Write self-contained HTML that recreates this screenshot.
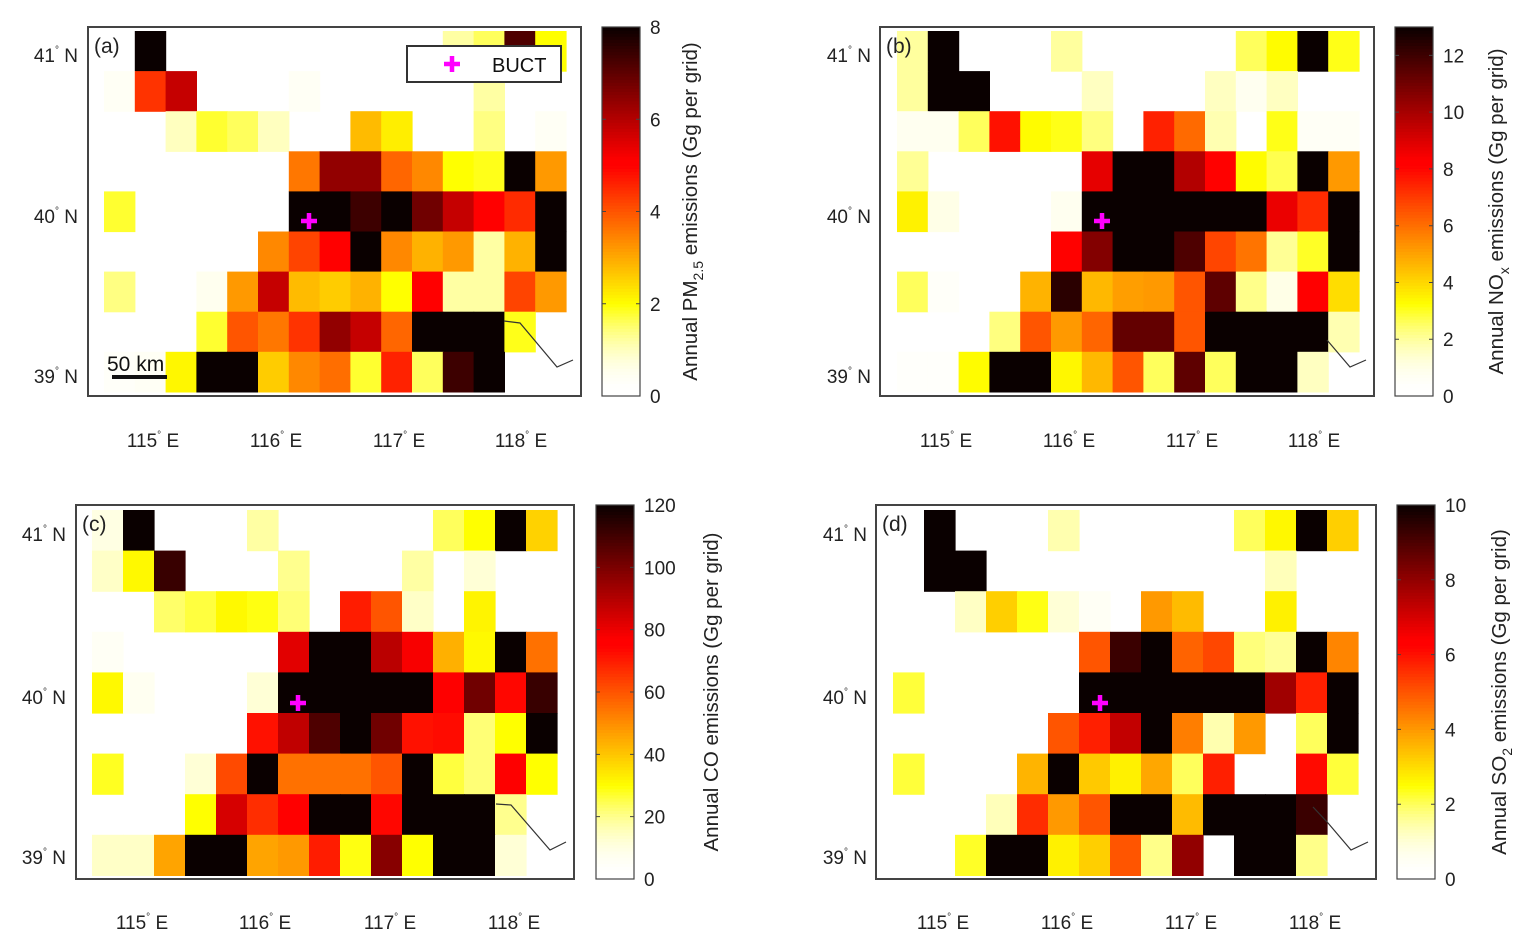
<!DOCTYPE html>
<html><head><meta charset="utf-8"><style>
html,body{margin:0;padding:0;background:#fff}
svg{display:block;font-family:"Liberation Sans",sans-serif}
</style></head><body>
<svg id="fig" width="1537" height="951" viewBox="0 0 1537 951" xmlns="http://www.w3.org/2000/svg"></svg>
<script>
// Emission grid values (rows north->south, 15 columns west->east)
const pm25 = [
[0,8,0,0,0,0,0,0,0,0,0,1.2,1.6,7.2,2],
[0.4,4.4,5.8,0,0,0,0.4,0,0,0,0,0,1.2,0,0],
[0,0,1,1.8,1.6,1,0,0,2.8,2.2,0,0,1.4,0,0.4],
[0,0,0,0,0,0,3.6,6.4,6.4,3.8,3.4,2,1.9,8,3.2],
[1.8,0,0,0,0,0,8,8,7.4,8,6.8,5.8,5,4.5,8],
[0,0,0,0,0,3.4,4.2,5,8,3.4,2.9,3.2,1.2,2.9,8],
[1.4,0,0,0.5,3.2,5.8,2.8,2.6,2.9,2,5,1.2,1.2,4.2,3.2],
[0,0,0,1.8,4,3.6,4.4,6.4,5.8,3.8,8,8,8,1.9,0],
[0.3,0.4,2.1,8,8,2.6,3.4,3.7,1.8,4.6,1.6,7.4,8,0,0]];
const nox = [
[2,13,0,0,0,2,0,0,0,0,0,2.6,3.3,13,3.1],
[2,13,13,0,0,0,1.6,0,0,0,1.6,0.8,1.6,0,0],
[0.8,0.8,2.6,7.8,3.3,3.1,2.3,0,7.5,6.1,1.8,0,3.1,0.6,0.6],
[2.1,0,0,0,0,0,8.8,13,13,9.8,8.1,3.3,2.7,13,5.2],
[3.5,1,0,0,0,0.8,13,13,13,13,13,13,8.7,7.3,13],
[0,0,0,0,0,8.1,10.7,13,13,11.7,6.8,5.9,2.1,3,13],
[2.6,0.5,0,0,4.7,12.4,4.6,5.1,5.2,6.5,11.4,2.2,1,8.2,3.9],
[0,0,0,2.3,6.5,5.2,6.2,11.3,11.3,6.5,13,13,13,13,1.8],
[0.4,0.4,3.3,13,13,3.4,4.6,6.5,2.6,11.4,2.6,13,13,1.6,0]];
const co = [
[10,120,0,0,0,18,0,0,0,0,0,24,30,120,38],
[14,31,112,0,0,0,20,0,0,0,18,0,12,0,0],
[0,0,23,26,31,29,22,0,70,60,14,0,32,0,0],
[6,0,0,0,0,0,82,120,120,89,78,44,31,120,55],
[31,7,0,0,0,12,120,120,120,120,120,77,102,74,112],
[0,0,0,0,0,72,88,108,120,102,72,73,22,30,120],
[28,0,0,12,62,120,55,55,55,60,120,26,22,77,30],
[0,0,0,30,84,67,76,120,120,74,120,120,120,20,0],
[14,14,46,120,120,46,48,70,29,98,30,120,120,12,0]];
const so2 = [
[0,10,0,0,0,1.4,0,0,0,0,0,2,2.6,10,3.2],
[0,10,10,0,0,0,0,0,0,0,0,0,1.3,0,0],
[0,0,1.2,3.2,2.4,1,0.5,0,4,3.5,0,0,2.7,0,0],
[0,0,0,0,0,0,5,9.3,10,4.8,5.2,1.8,1.6,10,4.3],
[2.2,0,0,0,0,0,10,10,10,10,10,10,7.8,5.8,10],
[0,0,0,0,0,5,5.8,7.3,10,4.4,1.4,4,0,2,10],
[2.2,0,0,0,3.6,10,3.3,2.7,3.8,2,5.8,0,0,6.1,2.2],
[0,0,0,1.3,5.6,4,5,10,10,3.5,10,10,10,9.3,0],
[0,0,2.3,10,10,2.7,3.2,5,1.7,8,0,10,10,1.7,0]];
const ticksA = [0,2,4,6,8];
const ticksB = [0,2,4,6,8,10,12];
const ticksC = [0,20,40,60,80,100,120];
const ticksD = [0,2,4,6,8,10];
const lonLabels = ["115","116","117","118"];
const latLabels = ["41","40","39"];

const NS="http://www.w3.org/2000/svg";
const svg=document.getElementById('fig');
function mk(tag,attrs,parent){const e=document.createElementNS(NS,tag);for(const k in attrs)e.setAttribute(k,attrs[k]);(parent||svg).appendChild(e);return e;}
function cmap(f){
  f=Math.max(0,Math.min(1,f));
  const v=1-f;
  const r=Math.min(1,0.04+v/0.375);
  const g=Math.max(0,Math.min(1,(v-0.375)/0.375));
  const b=f>=0.25?0:1-Math.pow(f/0.25,2);
  return `rgb(${Math.round(Math.min(1,r)*255)},${Math.round(g*255)},${Math.round(b*255)})`;
}
const panels=[
 {id:'a',data:pm25,max:8,ticks:ticksA,box:[88,27,493,369],x0:104,cw:30.8,y0:31,ch:40.1,cb:[602,27,38,369],
  title:['Annual PM','2.5',' emissions (Gg per grid)'],tx:697,
  ylx:78,yly:[55,216,376],xly:440,xlx:[153,276,399,521],buct:[309,221],
  coast:[[504,321],[520,323],[557,367],[573,360]]},
 {id:'b',data:nox,max:13,ticks:ticksB,box:[880,27,494,369],x0:897,cw:30.8,y0:31,ch:40.1,cb:[1395,27,38,369],
  title:['Annual NO','x',' emissions (Gg per grid)'],tx:1503,
  ylx:871,yly:[55,216,376],xly:440,xlx:[946,1069,1192,1314],buct:[1102,221],
  coast:[[1327,340],[1350,367],[1366,360]]},
 {id:'c',data:co,max:120,ticks:ticksC,box:[76,505,498,374],x0:92,cw:31,y0:510,ch:40.6,cb:[596,505,38,374],
  title:['Annual CO emissions (Gg per grid)'],tx:718,
  ylx:66,yly:[534,697,857],xly:922,xlx:[142,265,390,514],buct:[298,703],
  coast:[[496,804],[511,805],[550,850],[566,842]]},
 {id:'d',data:so2,max:10,ticks:ticksD,box:[876,505,500,374],x0:893,cw:31,y0:510,ch:40.6,cb:[1397,505,38,374],
  title:['Annual SO','2',' emissions (Gg per grid)'],tx:1506,
  ylx:867,yly:[534,697,857],xly:922,xlx:[943,1067,1191,1315],buct:[1100,703],
  coast:[[1313,807],[1328,823],[1351,850],[1368,842]]}
];
panels.forEach(p=>{
  const g=mk('g',{});
  
  
  const [bx,by,bw,bh]=p.box;
  p.data.forEach((row,r)=>row.forEach((val,c)=>{
    if(val<=0)return;
    const rc=mk('rect',{x:p.x0+c*p.cw,y:p.y0+r*p.ch,width:p.cw+0.6,height:p.ch+0.6,fill:cmap(val/p.max)},g);
    
    
  }));
  const cl=mk('polyline',{points:p.coast.map(q=>q.join(',')).join(' '),fill:'none',stroke:'#333','stroke-width':1.2},g);
  
  
  const fr=mk('rect',{x:bx,y:by,width:bw,height:bh,fill:'none',stroke:'#444','stroke-width':2},g);
  
  
  const pl=mk('text',{x:bx+6,y:by+26,'font-size':21,fill:'#222'},g);pl.textContent='('+p.id+')';
  
  
  const [mx,my]=p.buct;
  const bm=mk('path',{d:`M${mx-8},${my}H${mx+8}M${mx},${my-8}V${my+8}`,stroke:'#f0f',"stroke-width":4.5},g);
  
  
  latLabels.forEach((t,i)=>{
    const tx=mk('text',{x:p.ylx,y:p.yly[i]+7,'font-size':19,fill:'#222','text-anchor':'end'},g);
    tx.innerHTML=t+'<tspan dy="-9" font-size="10">°</tspan><tspan dy="9">  N</tspan>';
    tx.setAttribute('xml:space','preserve');
    
    
  });
  lonLabels.forEach((t,i)=>{
    const tx=mk('text',{x:p.xlx[i],y:p.xly+7,'font-size':19,fill:'#222','text-anchor':'middle'},g);
    tx.innerHTML=t+'<tspan dy="-9" font-size="10">°</tspan><tspan dy="9">  E</tspan>';
    tx.setAttribute('xml:space','preserve');
    
    
  });
  // colorbar
  const [cx,cy,cw,ch]=p.cb;
  const n=120;
  for(let i=0;i<n;i++){
    const s=mk('rect',{x:cx,y:cy+ch-(i+1)*ch/n,width:cw,height:ch/n+0.5,fill:cmap((i+0.5)/n)},g);
    
    
  }
  const cf=mk('rect',{x:cx,y:cy,width:cw,height:ch,fill:'none',stroke:'#444','stroke-width':1.2},g);
  
  
  p.ticks.forEach(t=>{
    const ty=cy+ch-t/p.max*ch;
    mk('path',{d:`M${cx},${ty}h4M${cx+cw},${ty}h-4`,stroke:'#444','stroke-width':1},g);
    const tl=mk('text',{x:cx+cw+10,y:ty+7,'font-size':19,fill:'#222'},g);tl.textContent=t;
    
    
  });
  const tcy=cy+ch/2;
  const tt=mk('text',{x:0,y:0,'font-size':20.5,fill:'#222','text-anchor':'middle',transform:`translate(${p.tx},${tcy}) rotate(-90)`},g);
  if(p.title.length===1)tt.textContent=p.title[0];
  else tt.innerHTML=p.title[0]+'<tspan dy="6" font-size="14">'+p.title[1]+'</tspan><tspan dy="-6">'+p.title[2]+'</tspan>';
  
  
});
// legend & scale bar in panel a
const lg=mk('g',{});


mk('rect',{x:407,y:46,width:154,height:36,fill:'#fff',stroke:'#333','stroke-width':2},lg);
mk('path',{d:'M444,64H460M452,56V72',stroke:'#f0f','stroke-width':4.5},lg);
const lt=mk('text',{x:492,y:72,'font-size':20,fill:'#111'},lg);lt.textContent='BUCT';
const sb=mk('g',{});


const st=mk('text',{x:107,y:371,'font-size':21,fill:'#111'},sb);st.textContent='50 km';
mk('rect',{x:112,y:375,width:55,height:4,fill:'#111'},sb);
</script>
</body></html>
